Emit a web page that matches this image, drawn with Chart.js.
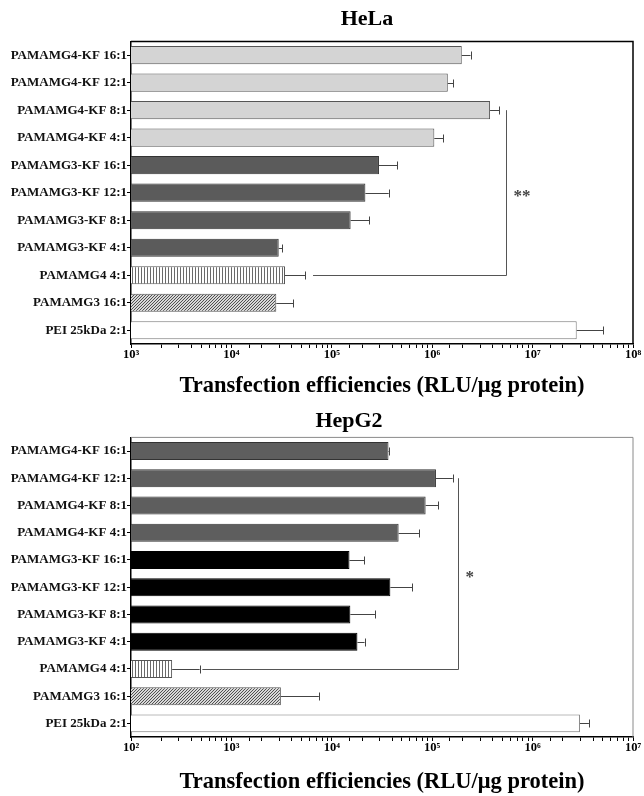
<!DOCTYPE html>
<html>
<head>
<meta charset="utf-8">
<script src="https://cdn.jsdelivr.net/npm/chart.js@4.4.1/dist/chart.umd.min.js"></script>
<style>
  body { margin: 0; background: #fff; }
  .box { position: absolute; left: 0; width: 644px; }
  #helaBox { top: 0; height: 400px; }
  #hepBox { top: 400px; height: 396px; }
</style>
</head>
<body>
<div class="box" id="helaBox"><canvas id="helaChart"></canvas></div>
<div class="box" id="hepBox"><canvas id="hepChart"></canvas></div>
<script>
// groups, top to bottom
const categories = [
    'PAMAMG4-KF 16:1', 'PAMAMG4-KF 12:1', 'PAMAMG4-KF 8:1', 'PAMAMG4-KF 4:1',
    'PAMAMG3-KF 16:1', 'PAMAMG3-KF 12:1', 'PAMAMG3-KF 8:1', 'PAMAMG3-KF 4:1',
    'PAMAMG4 4:1', 'PAMAMG3 16:1', 'PEI 25kDa 2:1'
];

// RLU/ug protein, mean and mean + SD
const helaMean  = [1.97e6, 1.43e6, 3.77e6, 1.05e6, 2.95e5, 2.16e5, 1.54e5, 2.96e4, 3.42e4, 2.80e4, 2.75e7];
const helaUpper = [2.41e6, 1.62e6, 4.67e6, 1.29e6, 4.49e5, 3.69e5, 2.36e5, 3.21e4, 5.45e4, 4.11e4, 5.08e7];
const hepMean   = [3.67e4, 1.09e5, 8.60e4, 4.63e4, 1.50e4, 3.83e4, 1.53e4, 1.80e4, 257, 3.11e3, 2.96e6];
const hepUpper  = [3.75e4, 1.60e5, 1.15e5, 7.38e4, 2.10e4, 6.30e4, 2.69e4, 2.12e4, 483, 7.43e3, 3.64e6];

// decades shown on each x axis
const helaExps = [3, 4, 5, 6, 7, 8];
const hepExps  = [2, 3, 4, 5, 6, 7];

// significance brackets: x value of the vertical line, x value where the lower arm starts
const helaSigX = 5.4e6, helaSigStart = 6.5e4, helaSigRows = [2, 8], helaSigLabel = '**';
const hepSigX  = 1.82e5, hepSigStart = 514,  hepSigRows = [1, 8],  hepSigLabel = '*';

const SERIF = "'Liberation Serif', 'Times New Roman', serif";
const SUP = { 2: '\u00B2', 3: '\u00B3', 4: '\u2074', 5: '\u2075', 6: '\u2076', 7: '\u2077', 8: '\u2078' };
const LABEL_SIZE = 13;

// widest category label, so mirrored labels can be pushed back to the left of the axis
const measure = document.createElement('canvas').getContext('2d');
measure.font = 'bold ' + LABEL_SIZE + 'px ' + SERIF;
const widest = Math.max(...categories.map(c => measure.measureText(c).width));

function makePattern(kind) {
    const c = document.createElement('canvas');
    const g = c.getContext('2d');
    if (kind === 'vstripe') {
        c.width = 3; c.height = 4;
        g.fillStyle = '#fff'; g.fillRect(0, 0, 3, 4);
        g.fillStyle = '#6a6a6a'; g.fillRect(0, 0, 1, 4);
    } else {
        c.width = 3; c.height = 3;
        g.fillStyle = '#d8d8d8'; g.fillRect(0, 0, 3, 3);
        g.fillStyle = '#505050';
        g.fillRect(2, 0, 1, 1); g.fillRect(1, 1, 1, 1); g.fillRect(0, 2, 1, 1);
    }
    return g.createPattern(c, 'repeat');
}

const vStripe = makePattern('vstripe');
const diag = makePattern('diag');

const helaFill = ['#d4d4d4', '#d4d4d4', '#d4d4d4', '#d4d4d4', '#5b5b5b', '#5b5b5b', '#5b5b5b', '#5b5b5b', vStripe, diag, '#ffffff'];
const helaEdge = ['#555', '#555', '#555', '#555', '#333', '#333', '#333', '#333', '#555', '#555', '#777'];
const hepFill  = ['#5e5e5e', '#5e5e5e', '#5e5e5e', '#5e5e5e', '#000', '#000', '#000', '#000', vStripe, diag, '#ffffff'];
const hepEdge  = ['#333', '#333', '#333', '#333', '#000', '#000', '#000', '#000', '#555', '#555', '#777'];

// box round the plot area (top and right sides)
const framePlugin = {
    id: 'frame',
    afterDraw(chart, args, opts) {
        const a = chart.chartArea, ctx = chart.ctx;
        ctx.save();
        ctx.strokeStyle = opts.color;
        ctx.lineWidth = opts.width;
        ctx.beginPath();
        ctx.moveTo(a.left, a.top);
        ctx.lineTo(a.right, a.top);
        ctx.lineTo(a.right, a.bottom);
        ctx.stroke();
        ctx.restore();
    }
};

// one-sided error bars with a cap
const errorPlugin = {
    id: 'errorBars',
    afterDatasetsDraw(chart, args, opts) {
        const ctx = chart.ctx, xs = chart.scales.x, ys = chart.scales.y;
        const means = chart.data.datasets[0].data;
        ctx.save();
        ctx.strokeStyle = '#444';
        ctx.lineWidth = 1;
        opts.upper.forEach((u, i) => {
            const x0 = xs.getPixelForValue(means[i]);
            const x1 = xs.getPixelForValue(u);
            const y = Math.round(ys.getPixelForValue(i)) + 0.5;
            ctx.beginPath();
            ctx.moveTo(x0, y); ctx.lineTo(x1, y);
            ctx.moveTo(Math.round(x1) + 0.5, y - 4); ctx.lineTo(Math.round(x1) + 0.5, y + 4);
            ctx.stroke();
        });
        ctx.restore();
    }
};

const bracketPlugin = {
    id: 'bracket',
    afterDatasetsDraw(chart, args, opts) {
        const ctx = chart.ctx, xs = chart.scales.x, ys = chart.scales.y;
        const x = Math.round(xs.getPixelForValue(opts.x)) + 0.5;
        const y0 = ys.getPixelForValue(opts.rows[0]);
        const y1 = Math.round(ys.getPixelForValue(opts.rows[1])) + 0.5;
        const xs0 = xs.getPixelForValue(opts.start);
        ctx.save();
        ctx.strokeStyle = '#555';
        ctx.lineWidth = 1;
        ctx.beginPath();
        ctx.moveTo(x, y0); ctx.lineTo(x, y1); ctx.lineTo(xs0, y1);
        ctx.stroke();
        ctx.fillStyle = '#444';
        ctx.font = 'bold 17px ' + SERIF;
        ctx.textBaseline = 'middle';
        ctx.fillText(opts.label, x + 7, ys.getPixelForValue(opts.labelRow) + 4);
        ctx.restore();
    }
};

// padLeft shifts the (full width) title centre; the y axis box shrinks to keep the plot at x=131
function makeChart(id, title, means, upper, exps, fill, edge, frame, sig, lay) {
    const ctx = document.getElementById(id).getContext('2d');
    new Chart(ctx, {
        type: 'bar',
        data: {
            labels: categories,
            datasets: [{
                data: means,
                backgroundColor: fill,
                borderColor: edge,
                borderWidth: 1,
                barPercentage: 0.66,
                categoryPercentage: 1
            }]
        },
        plugins: [framePlugin, errorPlugin, bracketPlugin],
        options: {
            indexAxis: 'y',
            responsive: true,
            maintainAspectRatio: false,
            animation: false,
            layout: { padding: { top: 0, right: lay.padRight, left: lay.padLeft, bottom: 0 } },
            plugins: {
                legend: { display: false },
                tooltip: { enabled: false },
                title: {
                    display: true,
                    text: title,
                    color: '#000',
                    font: { family: SERIF, size: 22, weight: 'bold' },
                    padding: { top: lay.titleTop, bottom: lay.titleBottom }
                },
                frame: frame,
                errorBars: { upper: upper },
                bracket: sig
            },
            scales: {
                x: {
                    type: 'logarithmic',
                    min: Math.pow(10, exps[0]),
                    max: Math.pow(10, exps[exps.length - 1]),
                    border: { display: true, color: '#000', width: 1.5 },
                    grid: { drawOnChartArea: false, tickLength: 4, color: '#000' },
                    ticks: {
                        autoSkip: false,
                        maxRotation: 0,
                        padding: -1,
                        color: '#000',
                        font: { family: SERIF, size: 12.5, weight: 'bold' },
                        callback: function(value) {
                            const e = Math.round(Math.log10(value));
                            if (Math.abs(Math.log10(value) - e) > 1e-6 || !exps.includes(e)) return '';
                            return '10' + SUP[e];
                        }
                    },
                    title: {
                        display: true,
                        text: 'Transfection efficiencies (RLU/\u03BCg protein)',
                        color: '#000',
                        font: { family: SERIF, size: 22.5, weight: 'bold' },
                        padding: { top: lay.xTitleTop, bottom: 0 }
                    }
                },
                y: {
                    border: { display: true, color: '#000', width: 1.5 },
                    grid: { drawOnChartArea: false, offset: false, tickLength: 4, color: '#000' },
                    ticks: {
                        mirror: true,
                        crossAlign: 'far',
                        padding: -(widest + 4),
                        color: '#111',
                        font: { family: SERIF, size: LABEL_SIZE, weight: 'bold' }
                    },
                    afterFit: function(scale) { scale.width = 131 - lay.padLeft; }
                }
            }
        }
    });
}

makeChart('helaChart', 'HeLa', helaMean, helaUpper, helaExps, helaFill, helaEdge,
    { color: '#000', width: 1.5 },
    { x: helaSigX, start: helaSigStart, rows: helaSigRows, label: helaSigLabel, labelRow: 5 },
    { padLeft: 101, padRight: 11, titleTop: 6, titleBottom: 9, xTitleTop: 12 });

makeChart('hepChart', 'HepG2', hepMean, hepUpper, hepExps, hepFill, hepEdge,
    { color: '#8a8a8a', width: 1 },
    { x: hepSigX, start: hepSigStart, rows: hepSigRows, label: hepSigLabel, labelRow: 4.5 },
    { padLeft: 65, padRight: 11, titleTop: 8, titleBottom: 3, xTitleTop: 15 });
</script>
</body>
</html>
